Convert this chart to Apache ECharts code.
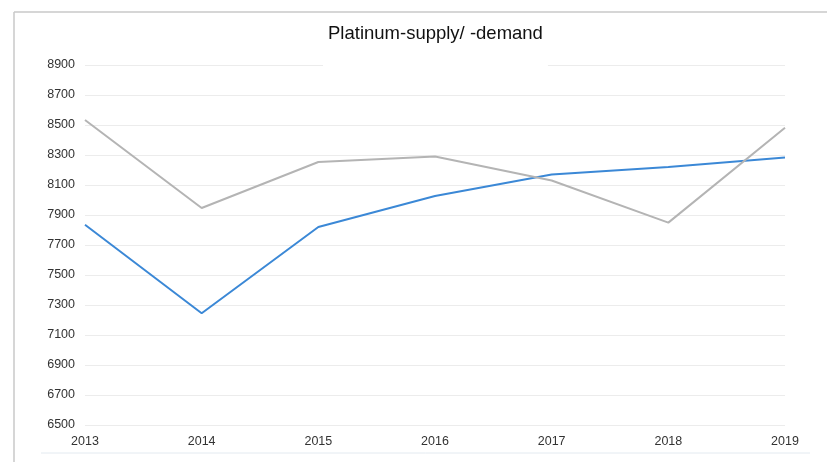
<!DOCTYPE html>
<html>
<head>
<meta charset="utf-8">
<script src="https://cdn.jsdelivr.net/npm/echarts@6/dist/echarts.min.js"></script>
<style>
  html, body { margin: 0; padding: 0; background: #fff; }
  #main { width: 827px; height: 462px; }
</style>
</head>
<body>
<div id="main"></div>
<script>
// data
var years = ['2013', '2014', '2015', '2016', '2017', '2018', '2019'];
var supply = [7835, 7245, 7820, 8027, 8170, 8220, 8283];
var demand = [8533, 7947, 8253, 8290, 8130, 7849, 8482];

var chart = echarts.init(document.getElementById('main'));

var option = {
  animation: false,
  title: {
    text: 'Platinum-supply/ -demand',
    left: 323,
    top: 14,
    padding: [10, 5, 23, 5],
    backgroundColor: '#fff',
    textStyle: {
      fontFamily: 'Liberation Sans',
      fontSize: 18.5,
      fontWeight: 'normal',
      color: '#111'
    }
  },
  grid: {
    left: 85,
    right: 42,
    top: 65,
    bottom: 37
  },
  xAxis: {
    type: 'category',
    data: years,
    boundaryGap: false,
    axisLine: { show: false },
    axisTick: { show: false },
    axisLabel: {
      margin: 10,
      fontFamily: 'Liberation Sans',
      fontSize: 12.5,
      color: '#333'
    }
  },
  yAxis: {
    type: 'value',
    min: 6500,
    max: 8900,
    interval: 200,
    axisLine: { show: false },
    axisTick: { show: false },
    axisLabel: {
      margin: 10,
      fontFamily: 'Liberation Sans',
      fontSize: 12.5,
      color: '#333',
      formatter: function (v) { return String(v); }
    },
    splitLine: { lineStyle: { color: '#ececec', width: 1 } }
  },
  graphic: [
    // frame around the picture
    { type: 'line', z: 100, shape: { x1: 14, y1: 12, x2: 827, y2: 12 }, style: { stroke: '#c8c8c8', lineWidth: 1.5 } },
    { type: 'line', z: 100, shape: { x1: 14, y1: 12, x2: 14, y2: 462 }, style: { stroke: '#c8c8c8', lineWidth: 1.5 } },
    { type: 'line', z: 100, shape: { x1: 41, y1: 453, x2: 810, y2: 453 }, style: { stroke: '#e3eaf0', lineWidth: 1 } }
  ],
  series: [
    {
      name: 'Supply',
      type: 'line',
      data: supply,
      symbol: 'none',
      lineStyle: { color: '#3b88d6', width: 2 }
    },
    {
      name: 'Demand',
      type: 'line',
      data: demand,
      symbol: 'none',
      lineStyle: { color: '#b4b4b4', width: 2 }
    }
  ]
};

chart.setOption(option);
</script>
</body>
</html>
